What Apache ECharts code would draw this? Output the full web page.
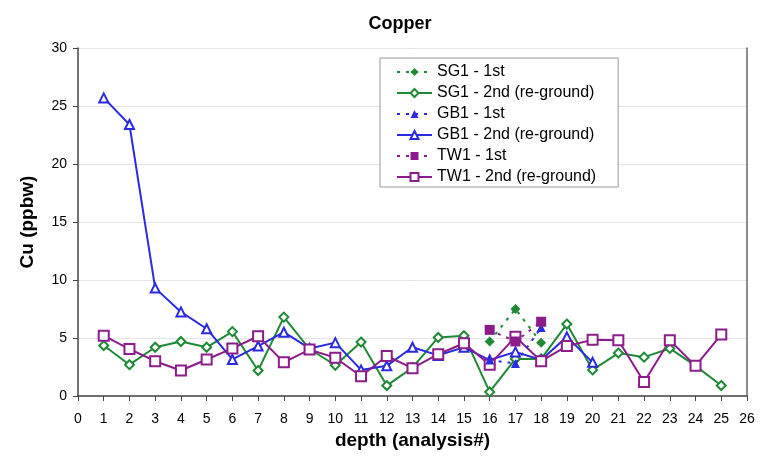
<!DOCTYPE html>
<html>
<head>
<meta charset="utf-8">
<script src="https://cdn.jsdelivr.net/npm/echarts@6/dist/echarts.min.js"></script>
<style>
  html, body { margin: 0; padding: 0; background: #fff; }
  #chart { width: 768px; height: 456px; }
</style>
</head>
<body>
<div id="chart"></div>
<script>
// depth (analysis #) for each sample
const depth2nd = [1, 2, 3, 4, 5, 6, 7, 8, 9, 10, 11, 12, 13, 14, 15, 16, 17, 18, 19, 20, 21, 22, 23, 24, 25];
const depthGB = [1, 2, 3, 4, 5, 6, 7, 8, 9, 10, 11, 12, 13, 14, 15, 16, 17, 18, 19, 20];
const depth1st = [16, 17, 18];

// Cu (ppbw)
const sg1First = [4.7, 7.5, 4.6];
const sg1Second = [4.35, 2.7, 4.2, 4.7, 4.2, 5.55, 2.2, 6.8, 4.05, 2.65, 4.65, 0.9, 2.45, 5.05, 5.2, 0.35, 3.2, 3.2, 6.2, 2.25, 3.7, 3.35, 4.1, 2.6, 0.9];
const gb1First = [3.1, 2.8, 5.9];
const gb1Second = [25.7, 23.4, 9.3, 7.25, 5.8, 3.15, 4.3, 5.5, 4.1, 4.6, 2.25, 2.6, 4.2, 3.5, 4.2, 3.1, 3.8, 3.1, 5.1, 2.9];
const tw1First = [5.7, 4.7, 6.4];
const tw1Second = [5.2, 4.05, 3.0, 2.2, 3.15, 4.1, 5.15, 2.9, 4.0, 3.3, 1.7, 3.45, 2.4, 3.6, 4.55, 2.7, 5.1, 3.0, 4.3, 4.85, 4.8, 1.2, 4.8, 2.6, 5.3];

const green = "#1f8a36";
const blue = "#2a2ae0";
const purple = "#8c1c8c";

function pairs(xs, ys) {
  return xs.map((x, i) => [x, ys[i]]);
}

function firstSeries(name, xs, ys, color, symbol, size) {
  return {
    name: name,
    type: "line",
    data: pairs(xs, ys),
    symbol: symbol,
    symbolSize: size,
    color: color,
    lineStyle: { width: 2, type: [3, 6], color: color },
    itemStyle: { color: color },
    z: 4,
  };
}

function secondSeries(name, xs, ys, color, symbol, size) {
  return {
    name: name,
    type: "line",
    data: pairs(xs, ys),
    symbol: symbol,
    symbolSize: size,
    color: color,
    lineStyle: { width: 2, color: color },
    itemStyle: { color: color, borderColor: color, borderWidth: 1 },
    z: 3,
  };
}

const chart = echarts.init(document.getElementById("chart"));

chart.setOption({
  animation: false,
  textStyle: { fontFamily: "Liberation Sans, Arial, sans-serif" },
  title: {
    text: "Copper",
    left: 395,
    textAlign: "center",
    top: 10,
    textStyle: { fontSize: 18, fontWeight: "bold", color: "#000" },
  },
  grid: { left: 78, right: 21, top: 48, bottom: 60 },
  legend: {
    orient: "vertical",
    left: 380,
    top: 58,
    padding: [6, 22, 2, 16],
    itemGap: 5,
    itemWidth: 35,
    itemHeight: 10,
    borderColor: "#999",
    borderWidth: 1,
    backgroundColor: "#fff",
    textStyle: { fontSize: 16, color: "#000" },
    data: [
      "SG1 - 1st",
      "SG1 - 2nd (re-ground)",
      "GB1 - 1st",
      "GB1 - 2nd (re-ground)",
      "TW1 - 1st",
      "TW1 - 2nd (re-ground)",
    ],
  },
  xAxis: {
    type: "value",
    min: 0,
    max: 26,
    interval: 1,
    name: "depth (analysis#)",
    nameLocation: "middle",
    nameGap: 35,
    nameTextStyle: { fontSize: 19, fontWeight: "bold", color: "#000" },
    axisLine: { onZero: false, lineStyle: { color: "#444", width: 1.5 } },
    axisTick: { show: true, inside: false, length: 5, lineStyle: { color: "#444" } },
    axisLabel: { fontSize: 14, color: "#000", margin: 16 },
    splitLine: { show: false },
  },
  yAxis: [
    {
      type: "value",
      min: 0,
      max: 30,
      interval: 5,
      name: "Cu (ppbw)",
      nameLocation: "middle",
      nameGap: 41,
      nameTextStyle: { fontSize: 19, fontWeight: "bold", color: "#000" },
      axisLine: { show: true, lineStyle: { color: "#444", width: 1.5 } },
      axisTick: { show: true, length: 5, lineStyle: { color: "#444" } },
      axisLabel: { fontSize: 14, color: "#000", margin: 11 },
      splitLine: { show: true, lineStyle: { color: "#e4e4e4", width: 1 } },
    },
    {
      type: "value",
      position: "right",
      min: 0,
      max: 30,
      interval: 5,
      axisLine: { show: true, lineStyle: { color: "#666", width: 1.5 } },
      axisTick: { show: false },
      axisLabel: { show: false },
      splitLine: { show: false },
    },
  ],
  series: [
    firstSeries("SG1 - 1st", depth1st, sg1First, green, "diamond", 10),
    secondSeries("SG1 - 2nd (re-ground)", depth2nd, sg1Second, green, "emptyDiamond", 9),
    firstSeries("GB1 - 1st", depth1st, gb1First, blue, "triangle", 9),
    secondSeries("GB1 - 2nd (re-ground)", depthGB, gb1Second, blue, "emptyTriangle", 9),
    firstSeries("TW1 - 1st", depth1st, tw1First, purple, "rect", 10),
    secondSeries("TW1 - 2nd (re-ground)", depth2nd, tw1Second, purple, "emptyRect", 10),
  ],
});
</script>
</body>
</html>
